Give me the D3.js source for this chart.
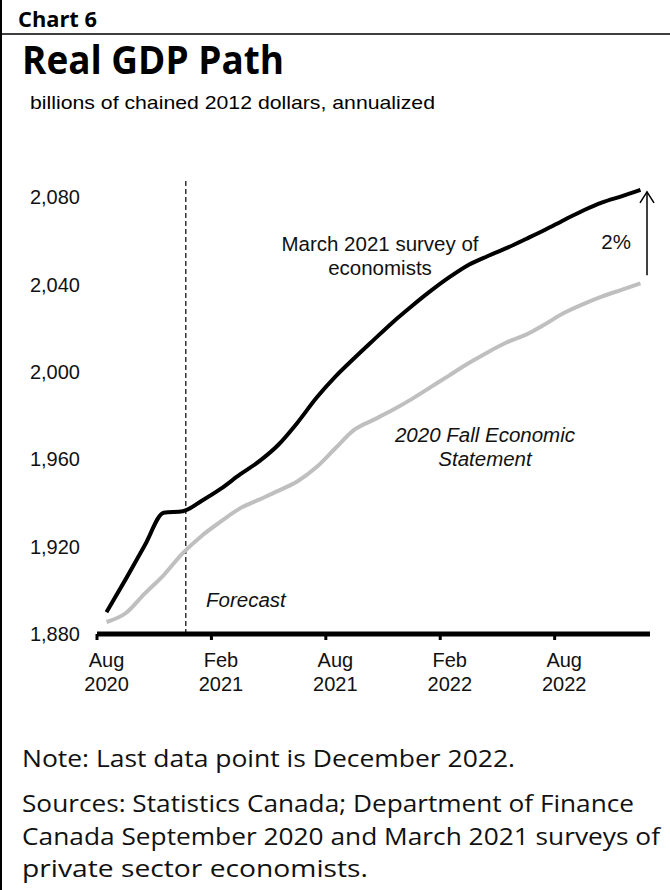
<!DOCTYPE html>
<html>
<head>
<meta charset="utf-8">
<script src="https://cdn.jsdelivr.net/npm/d3@7"></script>
<style>
  html, body { margin: 0; padding: 0; background: #fff; }
  svg { display: block; }
</style>
</head>
<body>
<svg id="chart" width="670" height="890"></svg>
<script>
// ---- Data ----
const months = [
  "Aug 2020","Sep 2020","Oct 2020","Nov 2020","Dec 2020",
  "Jan 2021","Feb 2021","Mar 2021","Apr 2021","May 2021","Jun 2021",
  "Jul 2021","Aug 2021","Sep 2021","Oct 2021","Nov 2021","Dec 2021",
  "Jan 2022","Feb 2022","Mar 2022","Apr 2022","May 2022","Jun 2022",
  "Jul 2022","Aug 2022","Sep 2022","Oct 2022","Nov 2022","Dec 2022"
];
const march2021Survey = [
  1890, 1905, 1920.5, 1935.5, 1936.2,
  1941, 1946.5, 1953, 1959, 1966.5, 1976.6,
  1988, 1997.8, 2006.3, 2014.5, 2022.6, 2030,
  2037, 2043.4, 2049, 2053, 2056.7, 2060.8,
  2065, 2069.5, 2073.8, 2077.5, 2080.3, 2083.3
];
const fall2020FES = [
  1885.5, 1889.5, 1898.5, 1907, 1917,
  1925, 1931.5, 1937.5, 1941.5, 1945.5, 1949.8,
  1956.3, 1965, 1973.5, 1978, 1982.5, 1987.5,
  1993, 1998.5, 2004, 2009, 2013.5, 2017,
  2021.8, 2027, 2031, 2034.5, 2037.5, 2040.5
];
const yTicks = [1880, 1920, 1960, 2000, 2040, 2080];
const xTickMonths = ["Aug 2020", "Feb 2021", "Aug 2021", "Feb 2022", "Aug 2022"];
const xTickLabels = [["Aug","2020"],["Feb","2021"],["Aug","2021"],["Feb","2022"],["Aug","2022"]];
const forecastStart = "Dec 2020";

// ---- Chart ----
const svg = d3.select("#chart");
const ARIAL = "'Liberation Sans', Arial, sans-serif";
const CAL = "'Open Sans', 'Noto Sans', sans-serif";

// frame lines
svg.append("line").attr("x1", 1).attr("x2", 1).attr("y1", 0).attr("y2", 890)
  .attr("stroke", "#000").attr("stroke-width", 2);
svg.append("line").attr("x1", 0).attr("x2", 670).attr("y1", 34).attr("y2", 34)
  .attr("stroke", "#000").attr("stroke-width", 1.3);

// headings
svg.append("text").attr("x", 18).attr("y", 27).text("Chart 6")
  .attr("font-family", CAL).attr("font-weight", "bold").attr("font-size", 22)
  .attr("textLength", 79).attr("lengthAdjust", "spacingAndGlyphs");
svg.append("text").attr("x", 22).attr("y", 74).text("Real GDP Path")
  .attr("font-family", CAL).attr("font-weight", "bold").attr("font-size", 40)
  .attr("textLength", 262).attr("lengthAdjust", "spacingAndGlyphs");
svg.append("text").attr("x", 30).attr("y", 109).text("billions of chained 2012 dollars, annualized")
  .attr("font-family", ARIAL).attr("font-size", 19)
  .attr("textLength", 405).attr("lengthAdjust", "spacingAndGlyphs");

const x = d3.scaleBand().domain(months).range([97, 650]).padding(0);
const bw = x.bandwidth();
const cx = m => x(m) + bw / 2;
const y = d3.scaleLinear().domain([1880, 2080]).range([634, 197]);

// y labels
svg.append("g").selectAll("text").data(yTicks).join("text")
  .attr("x", 80).attr("y", d => y(d)).attr("dy", "0.36em")
  .attr("text-anchor", "end").attr("font-family", ARIAL).attr("font-size", 20)
  .attr("fill", "#111")
  .text(d => d3.format(",")(d));

// forecast dashed line
svg.append("line")
  .attr("x1", cx(forecastStart) + 3).attr("x2", cx(forecastStart) + 3)
  .attr("y1", 181).attr("y2", y(1880))
  .attr("stroke", "#000").attr("stroke-width", 1.2).attr("stroke-dasharray", "5,3");

// lines
const line = (vals) => d3.line()
  .x((d, i) => cx(months[i]))
  .y(d => y(d))
  .curve(d3.curveMonotoneX)(vals);

svg.append("path").attr("d", line(fall2020FES))
  .attr("fill", "none").attr("stroke", "#bfbfbf").attr("stroke-width", 4);
svg.append("path").attr("d", line(march2021Survey))
  .attr("fill", "none").attr("stroke", "#000").attr("stroke-width", 4);

// x axis
svg.append("line").attr("x1", x.range()[0]).attr("x2", x.range()[1])
  .attr("y1", y(1880)).attr("y2", y(1880))
  .attr("stroke", "#000").attr("stroke-width", 5);
svg.append("g").selectAll("line").data(xTickMonths).join("line")
  .attr("x1", d => x(d)).attr("x2", d => x(d))
  .attr("y1", y(1880)).attr("y2", y(1880) + 6)
  .attr("stroke", "#000").attr("stroke-width", 3);
const xl = svg.append("g").selectAll("text").data(xTickMonths).join("text")
  .attr("text-anchor", "middle").attr("font-family", ARIAL).attr("font-size", 20)
  .attr("fill", "#111");
xl.each(function(d, i) {
  const t = d3.select(this);
  t.append("tspan").attr("x", cx(d)).attr("y", 667).text(xTickLabels[i][0]);
  t.append("tspan").attr("x", cx(d)).attr("y", 691).text(xTickLabels[i][1]);
});

// annotations
const ann = svg.append("g").attr("font-family", ARIAL).attr("font-size", 20.5).attr("fill", "#111");
ann.append("text").attr("x", 380).attr("y", 251).attr("text-anchor", "middle").text("March 2021 survey of");
ann.append("text").attr("x", 380).attr("y", 275).attr("text-anchor", "middle").text("economists");
ann.append("text").attr("x", 485).attr("y", 442).attr("text-anchor", "middle")
  .attr("font-style", "italic").text("2020 Fall Economic");
ann.append("text").attr("x", 485).attr("y", 466).attr("text-anchor", "middle")
  .attr("font-style", "italic").text("Statement");
ann.append("text").attr("x", 206).attr("y", 607).attr("font-style", "italic").text("Forecast");
ann.append("text").attr("x", 631).attr("y", 249).attr("text-anchor", "end").text("2%");

// arrow
const ax = 647;
const aTop = y(march2021Survey[march2021Survey.length - 1]) + 2;
const aBot = y(fall2020FES[fall2020FES.length - 1]) - 8;
svg.append("line").attr("x1", ax).attr("x2", ax).attr("y1", aBot).attr("y2", aTop)
  .attr("stroke", "#000").attr("stroke-width", 1.5);
svg.append("polyline")
  .attr("points", `${ax - 7},${aTop + 11} ${ax},${aTop} ${ax + 7},${aTop + 11}`)
  .attr("fill", "none").attr("stroke", "#000").attr("stroke-width", 1.5);

// notes
const notes = [
  ["Note: Last data point is December 2022.", 767, 493],
  ["Sources: Statistics Canada; Department of Finance", 812, 612],
  ["Canada September 2020 and March 2021 surveys of", 845, 638],
  ["private sector economists.", 877, 346]
];
svg.append("g").selectAll("text").data(notes).join("text")
  .attr("x", 22).attr("y", d => d[1])
  .attr("font-family", CAL).attr("font-size", 24).attr("fill", "#111")
  .attr("textLength", d => d[2]).attr("lengthAdjust", "spacingAndGlyphs")
  .text(d => d[0]);
</script>
</body>
</html>
